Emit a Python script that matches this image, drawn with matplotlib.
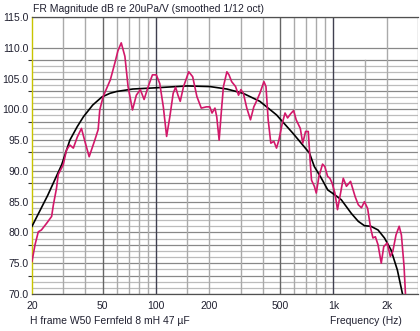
import matplotlib
matplotlib.use("Agg")
import matplotlib.pyplot as plt
import numpy as np

freq_meas = [20, 20.8, 21.7, 22.6, 24.2, 25.8, 26.4, 27.5, 28.1, 30, 31.3, 32.7, 34.2, 36, 38,
             40, 42, 45.2, 47.2, 48.2, 50.4, 55.3, 58.6, 61, 63.7, 66.8, 69.6, 73.7, 77.5,
             81.6, 85.7, 90.4, 95.5, 100.4, 105, 110, 114.8, 119.7, 125, 129, 133, 137, 143,
             153, 161, 170, 180, 192, 201, 207, 215, 220, 227, 234, 240, 251, 258, 267, 281,
             292, 301, 311, 325, 341, 356, 371, 385, 406, 417, 429, 444, 462, 478, 493, 515,
             534, 552, 575, 597, 617, 651, 672, 697, 722, 739, 753, 781, 801, 829, 869, 895,
             928, 956, 984, 1020, 1055, 1098, 1137, 1185, 1250, 1327, 1382, 1440, 1496, 1560,
             1622, 1672, 1725, 1786, 1862, 1923, 2012, 2095, 2162, 2255, 2350, 2418, 2503, 2560]
spl_meas = [75.3, 78.0, 80.1, 80.4, 81.5, 82.6, 84.5, 87.2, 89.4, 91.0, 93.4, 94.2, 93.7, 95.5, 96.9,
            94.5, 92.3, 95.0, 96.7, 99.9, 102.1, 104.8, 107.5, 109.5, 110.8, 108.6, 103.7, 99.9, 102.3,
            103.2, 101.6, 103.7, 105.6, 105.6, 104.2, 100.4, 95.6, 98.8, 102.6, 103.6, 102.3, 101.3, 103.7,
            106.1, 105.3, 102.1, 100.2, 100.4, 100.4, 99.4, 100.2, 98.8, 95.0, 99.9, 103.7, 106.1, 105.6, 104.5, 103.7,
            102.3, 103.2, 102.6, 100.2, 98.3, 100.4, 101.5, 102.6, 104.5, 103.7, 98.3, 94.5, 94.8, 93.7, 95.0, 97.7,
            99.4, 98.6, 99.3, 99.8, 98.3, 96.9, 94.5, 96.4, 96.4, 91.8, 88.5, 87.5, 86.4, 89.1, 91.1, 90.7,
            89.1, 88.8, 88.0, 86.4, 83.7, 86.4, 88.8, 87.5, 88.3, 85.8, 84.5, 84.0, 85.0, 83.9,
            80.7, 79.1, 79.3, 78.0, 75.0, 77.7, 78.3, 76.1, 76.9, 79.6, 81.0, 79.6, 74.5, 69.0]

# simulated / target curve
freq_model = [20, 24.5, 29.4, 32.7, 36, 39, 44, 49.5, 55, 60, 74, 100, 150, 201, 251, 310, 385, 478,
              592, 733, 781, 856, 930, 1020, 1109, 1262, 1382, 1496, 1627, 1786, 1941, 2111, 2295, 2470]
spl_model = [81.0, 86.0, 91.0, 95.0, 97.2, 98.8, 100.7, 102.0, 102.6, 102.9, 103.3, 103.5, 103.8,
             103.7, 103.3, 102.6, 101.3, 99.1, 96.1, 92.9, 90.7, 88.8, 86.9, 86.1, 85.3, 83.1,
             81.8, 81.1, 81.0, 80.4, 79.1, 77.2, 73.9, 69.6]

x_ticks = [20, 50, 100, 200, 500, 1000, 2000]
x_labels = ["20", "50", "100", "200", "500", "1k", "2k"]
y_major = [70, 75, 80, 85, 90, 95, 100, 105, 110, 115]
y_minor = [73, 78, 83, 88, 93, 98, 103, 108]

plt.rcParams["font.family"] = ["Liberation Sans", "DejaVu Sans"]
txt = "#202030"

fig = plt.figure(figsize=(4.2, 3.31), dpi=100)
ax = fig.add_axes([32 / 420, 1 - 294 / 331, 386 / 420, 277 / 331])
ax.set_xscale("log")
ax.set_xlim(20, 3000)
ax.set_ylim(70, 115)

# grid, drawn by hand so the odd density pattern can be kept
top_frac = (108 - 70) / 45
for db in range(71, 109):
    if db in y_major or db in y_minor:
        continue
    ax.axhline(db, color="#bcbcbc", lw=0.9, zorder=0)
for db in y_major + y_minor:
    ax.axhline(db, color="#888888", lw=0.9, zorder=0)
for f in [30, 40, 60, 70, 80, 90, 150, 200, 300, 400, 600, 700, 800, 900, 2000, 3000]:
    ax.axvline(f, color="#aaaaaa", lw=1.0, zorder=0)
ax.axvline(1500, ymax=top_frac, color="#aaaaaa", lw=1.0, zorder=0)
for f in [50, 500]:
    ax.axvline(f, color="#666666", lw=1.0, zorder=0)
for f in [100, 1000]:
    ax.axvline(f, color="#404050", lw=1.0, zorder=0)

ax.plot(freq_model, spl_model, color="black", lw=1.2, zorder=3)
ax.plot(freq_meas, spl_meas, color="#d2186a", lw=1.2, zorder=4)

ax.set_xticks(x_ticks)
ax.set_xticklabels(x_labels)
ax.xaxis.set_minor_locator(matplotlib.ticker.NullLocator())
ax.set_yticks(y_major)
ax.set_yticklabels([f"{v:.1f}" for v in y_major])
ax.set_yticks(y_minor, minor=True)
ax.tick_params(axis="x", length=0, pad=5, labelsize=7.5, colors=txt)
ax.tick_params(axis="y", which="major", length=0, pad=2.5, labelsize=7.5, colors=txt)
ax.tick_params(axis="y", which="minor", length=3, width=0.8, color="#303030")

for s in ["top", "bottom"]:
    ax.spines[s].set_color("#505050")
    ax.spines[s].set_linewidth(0.9)
ax.spines["left"].set_color("#c8c400")
ax.spines["left"].set_linewidth(1.0)
ax.spines["right"].set_visible(False)

fig.text(33 / 420, 1 - 9 / 331, "FR Magnitude dB re 20uPa/V (smoothed 1/12 oct)",
         fontsize=7.5, color=txt, va="center", ha="left")
fig.text(30 / 420, 1 - 321 / 331, "H frame W50 Fernfeld 8 mH 47 µF",
         fontsize=7.5, color=txt, va="center", ha="left")
fig.text(402 / 420, 1 - 321 / 331, "Frequency (Hz)",
         fontsize=7.5, color=txt, va="center", ha="right")

fig.savefig("out.png", dpi=100)
